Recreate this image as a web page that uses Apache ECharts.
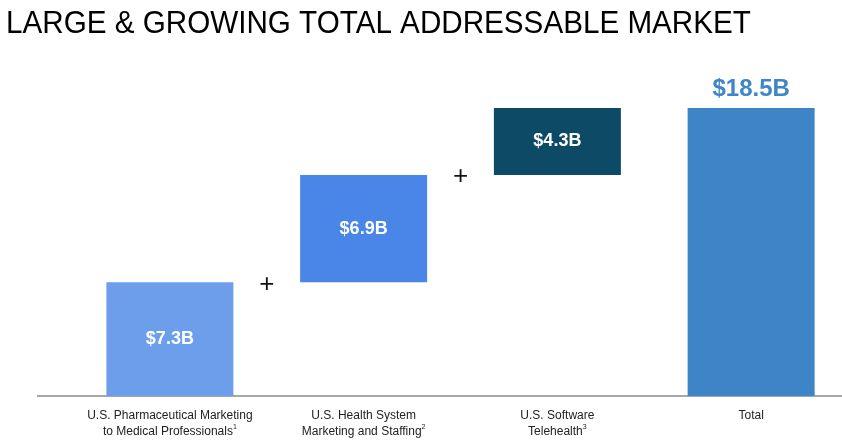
<!DOCTYPE html>
<html>
<head>
<meta charset="utf-8">
<script src="https://cdn.jsdelivr.net/npm/echarts@6/dist/echarts.min.js"></script>
<style>
html,body{margin:0;padding:0;background:#fff;}
#c{width:842px;height:445px;}
</style>
</head>
<body>
<div id="c"></div>
<script>
const titleText = 'LARGE & GROWING TOTAL ADDRESSABLE MARKET';
const categories = [
  'U.S. Pharmaceutical Marketing\nto Medical Professionals{sup|1}',
  'U.S. Health System\nMarketing and Staffing{sup|2}',
  'U.S. Software\nTelehealth{sup|3}',
  'Total'
];
const componentValues = [7.3, 6.9, 4.3];
const totalValue = 18.5;
const valueLabels = ['$7.3B', '$6.9B', '$4.3B', '$18.5B'];
const barColors = ['#6d9eeb', '#4a86e8', '#0d4a66', '#3d85c6'];

// waterfall: invisible base + visible segment
const baseValues = [];
let run = 0;
componentValues.forEach(v => { baseValues.push(run); run += v; });
baseValues.push(0);
const segValues = componentValues.concat([totalValue]);

const chart = echarts.init(document.getElementById('c'), null, {renderer: 'canvas'});
const sans = "'Liberation Sans', Arial, sans-serif";

chart.setOption({
  animation: false,
  grid: {left: 73, top: 108, right: -6, bottom: 49, containLabel: false, outerBoundsMode: 'none'},
  xAxis: {
    type: 'category',
    data: categories,
    axisLine: {show: false},
    axisTick: {show: false},
    axisLabel: {
      interval: 0,
      margin: 12,
      fontSize: 12,
      lineHeight: 15.5,
      color: '#222222',
      fontFamily: sans,
      rich: {
        sup: {fontSize: 7, verticalAlign: 'top', lineHeight: 15.5, color: '#222222', fontFamily: sans}
      }
    }
  },
  yAxis: {type: 'value', min: 0, max: totalValue, show: false, splitLine: {show: false}},
  series: [
    {
      type: 'bar', stack: 'w', name: 'base', data: baseValues,
      barWidth: 127, itemStyle: {color: 'transparent'}, silent: true
    },
    {
      type: 'bar', stack: 'w', name: 'value', barWidth: 127,
      data: segValues.map((v, i) => ({
        value: v,
        itemStyle: {color: barColors[i]},
        label: i < 3 ? {
          show: true, position: 'inside', formatter: valueLabels[i],
          color: '#ffffff', fontSize: 18, fontWeight: 'bold', fontFamily: sans
        } : {
          show: true, position: 'top', distance: 7, formatter: valueLabels[i],
          color: '#3f86c8', fontSize: 24, fontWeight: 'bold', fontFamily: sans
        }
      })),
      markPoint: {
        symbol: 'circle', symbolSize: 1,
        itemStyle: {color: 'rgba(0,0,0,0)'},
        label: {show: true, formatter: '+', offset: [97, 2], fontSize: 26, color: '#111', fontFamily: sans},
        data: [
          {coord: [0, baseValues[0] + componentValues[0]]},
          {coord: [1, baseValues[1] + componentValues[1]]}
        ]
      }
    }
  ],
  graphic: [
    {
      type: 'text', x: 6, y: 24, scaleX: 0.956, scaleY: 1,
      style: {text: titleText, font: '31px "Liberation Sans", Arial, sans-serif', fill: '#000', textAlign: 'left', textVerticalAlign: 'middle'}
    },
    {
      type: 'line', shape: {x1: 37, y1: 396, x2: 842, y2: 396},
      style: {stroke: '#8a8a8a', lineWidth: 1.5}
    }
  ]
});
</script>
</body>
</html>
